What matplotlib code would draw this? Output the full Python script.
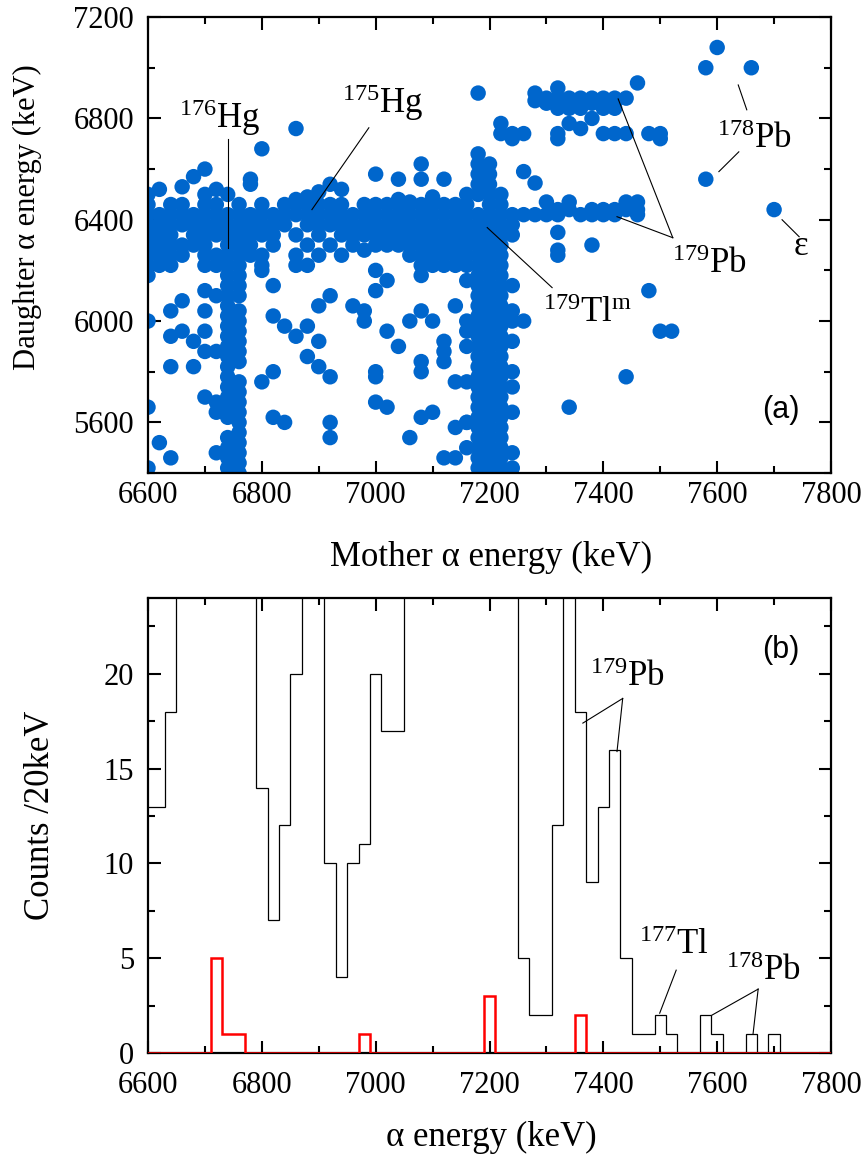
import numpy as np
import matplotlib
matplotlib.use("Agg")
from matplotlib import pyplot as plt
from matplotlib.ticker import MultipleLocator

plt.rcParams['font.family'] = ['Liberation Serif', 'DejaVu Serif']
plt.rcParams['mathtext.fontset'] = 'custom'
plt.rcParams['mathtext.rm'] = 'Liberation Serif'
plt.rcParams['mathtext.it'] = 'Liberation Serif:italic'

# ---- (a) mother / daughter correlations, energies in keV ----
# main horizontal band: (daughter energy, mother energies)
band_rows = [
    (6460, [6600, 6640, 6660, 6700, 6720, 6760, 6800, 6840, 6860, 6880, 6900, 6920, 6940,
            6980, 7000, 7020, 7040, 7060, 7080, 7100, 7120, 7140, 7160, 7200, 7220]),
    (6420, [6600, 6620, 6640, 6660, 6680, 6700, 6720, 6740, 6760, 6780, 6800, 6820, 6840,
            6860, 6880, 6900, 6920, 6940, 6960, 6980, 7000, 7020, 7040, 7060, 7080, 7100,
            7120, 7140, 7160, 7180, 7200, 7220, 7240, 7260, 7280]),
    (6380, [6600, 6620, 6640, 6660, 6680, 6700, 6720, 6740, 6760, 6780, 6800, 6820, 6840,
            6880, 6900, 6920, 6940, 6960, 6980, 7000, 7020, 7040, 7060, 7080, 7100, 7120,
            7140, 7160, 7180, 7200, 7220, 7240]),
    (6340, [6600, 6620, 6640, 6680, 6700, 6720, 6740, 6760, 6780, 6800, 6820, 6860, 6900,
            6940, 6960, 6980, 7000, 7020, 7040, 7060, 7080, 7100, 7120, 7140, 7160, 7180,
            7200, 7220, 7240]),
    (6300, [6600, 6620, 6640, 6660, 6680, 6700, 6740, 6760, 6780, 6820, 6880, 6920, 7000,
            7020, 7040, 7060, 7080, 7100, 7120, 7140, 7160, 7180, 7200, 7220]),
    (6260, [6600, 6620, 6640, 6660, 6700, 6720, 6740, 6760, 6780, 6800, 6860, 6940, 7060,
            7080, 7100, 7120, 7140, 7160, 7180, 7200, 7220]),
    (6220, [6600, 6620, 6640, 6700, 6720, 6740, 6760, 6800, 6880, 7080, 7100, 7120, 7140,
            7160, 7180, 7200, 7220]),
]

# vertical columns below the band: (mother energy, daughter energies)
hg176_columns = [
    (6740, [6180, 6140, 6100, 6060, 6020, 5980, 5940, 5900, 5860, 5820, 5780, 5740, 5700,
            5660, 5620, 5540, 5500, 5460, 5420]),
    (6760, [6180, 6140, 6100, 6040, 6000, 5960, 5920, 5880, 5840, 5760, 5720, 5680, 5640,
            5600, 5560, 5520, 5480, 5440, 5400]),
]
tl179_columns = [
    (7160, [6160, 6000, 5960, 5900, 5760, 5600, 5500]),
    (7180, [6660, 6620, 6580, 6540, 6500, 6180, 6140, 6100, 6060, 6020, 5980, 5940, 5900,
            5860, 5820, 5780, 5740, 5700, 5660, 5620, 5580, 5540, 5500, 5460, 5420]),
    (7200, [6620, 6580, 6540, 6500, 6180, 6140, 6100, 6060, 6020, 5980, 5940, 5900, 5860,
            5820, 5780, 5740, 5700, 5660, 5620, 5580, 5540, 5500, 5460, 5420]),
    (7220, [6500, 6180, 6140, 6100, 6060, 6020, 5980, 5940, 5900, 5860, 5820, 5780, 5740,
            5700, 5660, 5620, 5580, 5540, 5500, 5460, 5420]),
    (7240, [6140, 6040, 6000, 5920, 5800, 5740, 5640, 5480, 5420]),
]

# isolated events (mother, daughter)
loose_events = [
    (6860, 6760), (6800, 6680), (7180, 6900), (6700, 6600), (6680, 6570), (6660, 6530),
    (6620, 6520), (6600, 6500), (6720, 6520), (6740, 6500), (6700, 6500), (6780, 6560),
    (6780, 6540), (6860, 6480), (6880, 6490), (6900, 6510), (6920, 6540), (6940, 6520),
    (7000, 6580), (7040, 6560), (7080, 6620), (7080, 6560), (7120, 6560), (7040, 6480),
    (7060, 6470), (7100, 6490), (7160, 6500),
    (6600, 6180), (6600, 6000), (6640, 6040), (6660, 6080), (6700, 6120), (6720, 6100),
    (6700, 6040), (6660, 5960), (6640, 5940), (6680, 5920), (6700, 5960), (6700, 5880),
    (6720, 5880), (6640, 5820), (6680, 5820), (6700, 5700), (6720, 5680), (6720, 5640),
    (6620, 5520), (6640, 5460), (6600, 5660), (6600, 5420), (6720, 5480),
    (6800, 6200), (6820, 6140), (6800, 5760), (6820, 5800), (6820, 5620), (6840, 5600),
    (6820, 6020), (6840, 5980), (6860, 5940), (6880, 5980), (6880, 5860), (6900, 5920),
    (6900, 5820), (6920, 5780), (6900, 6060), (6920, 6100), (6920, 5600), (6920, 5540),
    (6960, 6060), (6980, 6040), (6980, 6000), (7000, 5800), (7000, 5780), (7000, 5680),
    (7020, 5660), (7020, 5960), (7040, 5900), (7060, 6000), (7080, 6040), (7100, 6000),
    (7080, 5840), (7080, 5800), (7080, 5620), (7100, 5640), (7060, 5540), (7120, 5460),
    (7140, 5460), (7140, 5580), (7160, 5600), (7120, 5920), (7120, 5880), (7120, 5840),
    (7140, 5760), (7140, 6060), (7080, 6180), (7000, 6120), (7020, 6160), (6860, 6220),
    (6900, 6260), (6960, 6300), (6980, 6280), (7000, 6200),
    (7260, 6590), (7280, 6545), (7260, 6000), (7320, 6350), (7380, 6300), (7320, 6280),
    (7320, 6260), (7480, 6120), (7500, 5960), (7520, 5960), (7440, 5780), (7340, 5660),
]

# 179Pb correlations
pb179_events = [
    (7460, 6940), (7320, 6920), (7280, 6900),
    (7300, 6880), (7320, 6880), (7340, 6880), (7360, 6880), (7380, 6880), (7400, 6880),
    (7420, 6880), (7440, 6880), (7280, 6870),
    (7300, 6860), (7320, 6860), (7340, 6860), (7360, 6860), (7380, 6860), (7400, 6860),
    (7420, 6860), (7320, 6840), (7340, 6840), (7360, 6840), (7400, 6840), (7420, 6840),
    (7380, 6800), (7340, 6780), (7220, 6780), (7360, 6760),
    (7220, 6740), (7240, 6740), (7260, 6740), (7320, 6740), (7400, 6740), (7420, 6740),
    (7440, 6740), (7480, 6740), (7500, 6740), (7240, 6720), (7320, 6720), (7500, 6720),
    (7300, 6470), (7340, 6470), (7440, 6470), (7460, 6470),
    (7320, 6440), (7340, 6440), (7380, 6440), (7400, 6440), (7420, 6440), (7440, 6440),
    (7460, 6440), (7300, 6420), (7320, 6420), (7360, 6420), (7380, 6420), (7400, 6420),
    (7420, 6420), (7460, 6420),
]
pb178_events = [(7600, 7080), (7580, 7000), (7660, 7000), (7580, 6560)]
eps_events = [(7700, 6440)]

# ---- (b) alpha spectra, 20 keV bins ----
bin_edges = np.arange(6590, 7811, 20)
all_counts = [13, 13, 18, 45, 80, 120, 150, 140, 90, 40,
              14, 7, 12, 20, 30, 28, 10, 4, 10, 11,
              20, 17, 17, 30, 45, 60, 80, 110, 150, 200,
              220, 150, 60, 5, 2, 2, 12, 30, 18, 9,
              13, 16, 5, 1, 1, 2, 1, 0, 0, 2,
              1, 0, 0, 1, 0, 1, 0, 0, 0, 0, 0]
gated_counts = [0, 0, 0, 0, 0, 0, 5, 1, 1, 0,
                0, 0, 0, 0, 0, 0, 0, 0, 0, 1,
                0, 0, 0, 0, 0, 0, 0, 0, 0, 0,
                3, 0, 0, 0, 0, 0, 0, 0, 2, 0,
                0, 0, 0, 0, 0, 0, 0, 0, 0, 0,
                0, 0, 0, 0, 0, 0, 0, 0, 0, 0, 0]

# collect the scatter points
mother = []
daughter = []
for e_d, row in band_rows:
    for e_m in row:
        mother.append(e_m)
        daughter.append(e_d)
for e_m, col in hg176_columns + tl179_columns:
    for e_d in col:
        mother.append(e_m)
        daughter.append(e_d)
for e_m, e_d in loose_events + pb179_events + pb178_events + eps_events:
    mother.append(e_m)
    daughter.append(e_d)

fig = plt.figure(figsize=(8.66, 11.62), dpi=100)
ax1 = fig.add_axes([0.1709, 0.5929, 0.7887, 0.3924])
ax2 = fig.add_axes([0.1709, 0.0938, 0.7887, 0.3916])

blue = '#0066cc'
ax1.scatter(mother, daughter, s=124, c=blue, edgecolors='none', zorder=2)
ax1.set_xlim(6600, 7800)
ax1.set_ylim(5400, 7200)
ax1.xaxis.set_major_locator(MultipleLocator(200))
ax1.xaxis.set_minor_locator(MultipleLocator(100))
ax1.yaxis.set_major_locator(MultipleLocator(400))
ax1.yaxis.set_minor_locator(MultipleLocator(200))

ax2.stairs(all_counts, bin_edges, color='black', lw=0.9, zorder=2)
ax2.stairs(gated_counts, bin_edges, color='red', lw=1.8, zorder=3)
ax2.set_xlim(6600, 7800)
ax2.set_ylim(0, 24)
ax2.xaxis.set_major_locator(MultipleLocator(200))
ax2.xaxis.set_minor_locator(MultipleLocator(100))
ax2.yaxis.set_major_locator(MultipleLocator(5))
ax2.yaxis.set_minor_locator(MultipleLocator(2.5))

for ax in (ax1, ax2):
    for sp in ax.spines.values():
        sp.set_linewidth(1.6)
    ax.tick_params(which='both', direction='in', top=True, right=True, width=1.5,
                   labelsize=22)
    ax.tick_params(which='major', length=9)
    ax.tick_params(which='minor', length=5)
    ax.tick_params(axis='y', pad=10)
ax1.tick_params(axis='x', pad=6)
ax2.tick_params(axis='x', pad=13)

ax1.set_xlabel('Mother α energy (keV)', fontsize=25, va='center')
ax1.set_ylabel('Daughter α energy (keV)', fontsize=22, va='center')
ax1.xaxis.set_label_coords(0.502, -0.186)
ax1.yaxis.set_label_coords(-0.176, 0.561)
ax2.set_xlabel('α energy (keV)', fontsize=25, va='center')
ax2.set_ylabel('Counts /20keV', fontsize=25, va='center')
ax2.xaxis.set_label_coords(0.502, -0.185)
ax2.yaxis.set_label_coords(-0.158, 0.523)

ax1.text(0.927, 0.138, '(a)', transform=ax1.transAxes, fontsize=22,
         family='Liberation Sans', ha='center', va='center')
ax2.text(0.927, 0.886, '(b)', transform=ax2.transAxes, fontsize=22,
         family='Liberation Sans', ha='center', va='center')

# isotope labels and leader lines
lab = dict(fontsize=25, ha='center', va='center')
ax1.text(6726, 6802, r'$^{176}$Hg', **lab)
ax1.text(7013, 6861, r'$^{175}$Hg', **lab)
ax1.text(7373, 6030, r'$^{179}$Tl$^{\rm m}$', **lab)
ax1.text(7586, 6223, r'$^{179}$Pb', **lab)
ax1.text(7666, 6715, r'$^{178}$Pb', **lab)
ax1.text(7747, 6294, 'ε', **lab)

leaders_a = [
    ((6741, 6720), (6741, 6290)),
    ((6988, 6763), (6888, 6440)),
    ((7196, 6369), (7310, 6132)),
    ((7522, 6329), (7426, 6877)),
    ((7522, 6329), (7424, 6412)),
    ((7637, 6932), (7652, 6834)),
    ((7638, 6668), (7603, 6590)),
    ((7714, 6400), (7744, 6333)),
]
for (x0, y0), (x1, y1) in leaders_a:
    ax1.plot([x0, x1], [y0, y1], color='black', lw=0.8, zorder=3)

ax2.text(7443, 19.8, r'$^{179}$Pb', **lab)
ax2.text(7524, 5.68, r'$^{177}$Tl', **lab)
ax2.text(7681, 4.32, r'$^{178}$Pb', **lab)

leaders_b = [
    ((7434, 18.7), (7364, 17.4)),
    ((7434, 18.7), (7424, 15.9)),
    ((7528, 4.37), (7499, 2.1)),
    ((7672, 3.37), (7591, 2.0)),
    ((7672, 3.37), (7663, 1.0)),
]
for (x0, y0), (x1, y1) in leaders_b:
    ax2.plot([x0, x1], [y0, y1], color='black', lw=0.8, zorder=4)

fig.savefig('out.png', dpi=100)
